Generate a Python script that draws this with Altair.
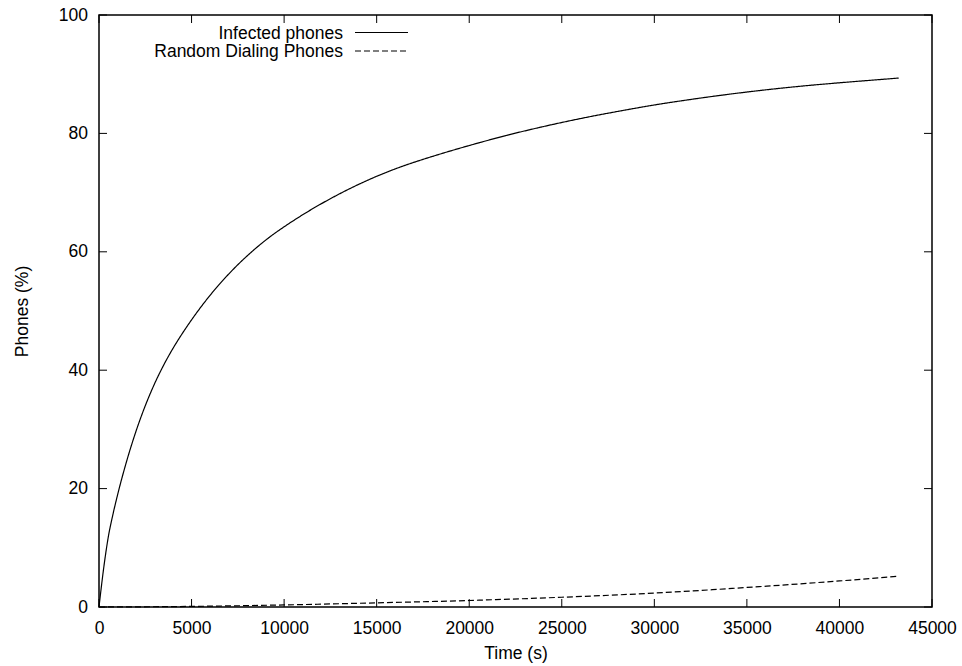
import altair as alt
import pandas as pd

# Infected phones (% of population) over time
infected_t = [0, 250, 500, 750, 1000, 1500, 2000, 2500, 3000, 3500, 4000, 4500, 5000,
              5500, 6000, 6500, 7000, 7500, 8000, 8500, 9000, 9500, 10000,
              11000, 12000, 13000, 14000, 15000,
              16000, 17000, 18000, 19000, 20000, 22000, 24000, 26000, 28000,
              30000, 32000, 34000, 36000, 38000, 40000, 42000, 43200]
infected_v = [0, 6.5, 11.8, 15.6, 18.9, 24.7, 29.7, 34.0, 37.7, 40.9, 43.7, 46.2, 48.5,
              50.65, 52.65, 54.5, 56.22, 57.82, 59.3, 60.68, 61.96, 63.14, 64.22,
              66.25, 68.1, 69.8, 71.35, 72.75,
              74.0, 75.1, 76.1, 77.05, 77.95, 79.65, 81.15, 82.5, 83.7,
              84.8, 85.75, 86.6, 87.35, 88.0, 88.55, 89.05, 89.35]

# Phones doing random dialing
dialing_t = [0, 5000, 10000, 15000, 20000, 25000, 30000, 35000, 40000, 43200]
dialing_v = [0, 0.1, 0.35, 0.7, 1.1, 1.65, 2.35, 3.3, 4.4, 5.2]

series_names = ["Infected phones", "Random Dialing Phones"]
x_ticks = [0, 5000, 10000, 15000, 20000, 25000, 30000, 35000, 40000, 45000]
y_ticks = [0, 20, 40, 60, 80, 100]

W, H = 833, 592
FONT = "Liberation Sans"
FS = 17.5
TICK = 8

df = pd.concat([
    pd.DataFrame({"t": infected_t, "v": infected_v, "series": series_names[0]}),
    pd.DataFrame({"t": dialing_t, "v": dialing_v, "series": series_names[1]}),
])

xscale = alt.Scale(domain=[0, 45000], nice=False, zero=False)
yscale = alt.Scale(domain=[0, 100], nice=False, zero=False)
xaxis = alt.Axis(values=x_ticks, format="d", title="Time (s)",
                 labelPadding=12.5, titleBaseline="alphabetic", titleY=51.5)
yaxis = alt.Axis(values=y_ticks, format="d", title="Phones (%)",
                 labelPadding=11.5, titleBaseline="alphabetic", titleX=-72)
X = alt.X("t:Q", scale=xscale, axis=xaxis)
Y = alt.Y("v:Q", scale=yscale, axis=yaxis)

lines = alt.Chart(df).mark_line(interpolate="monotone", strokeWidth=1.2, color="black").encode(
    x=X, y=Y,
    strokeDash=alt.StrokeDash("series:N", legend=None,
                              scale=alt.Scale(domain=series_names, range=[[1, 0], [6, 3]])),
    detail="series:N",
)

xt = pd.DataFrame({"t": x_ticks})
yt = pd.DataFrame({"v": y_ticks})

# inward ticks on all four sides of the frame
ticks_bottom = alt.Chart(xt).mark_rule(color="black", strokeWidth=1).encode(
    x=X, y=alt.value(H - TICK), y2=alt.value(H))
ticks_top = alt.Chart(xt).mark_rule(color="black", strokeWidth=1).encode(
    x=X, y=alt.value(0), y2=alt.value(TICK))
ticks_left = alt.Chart(yt).mark_rule(color="black", strokeWidth=1).encode(
    y=Y, x=alt.value(0), x2=alt.value(TICK))
ticks_right = alt.Chart(yt).mark_rule(color="black", strokeWidth=1).encode(
    y=Y, x=alt.value(W - TICK), x2=alt.value(W))

# key box in the upper left: label on the left, line sample on the right
key_layers = []
for i, name in enumerate(series_names):
    row_y = 18 + i * 18.5
    key_layers.append(
        alt.Chart(pd.DataFrame({"label": [name]})).mark_text(
            align="right", baseline="middle", font=FONT, fontSize=FS, color="black"
        ).encode(text="label:N", x=alt.value(244), y=alt.value(row_y + 0.5))
    )
    key_layers.append(
        alt.Chart(pd.DataFrame({"label": [name]})).mark_rule(
            color="black", strokeWidth=1.2, strokeDash=[1, 0] if i == 0 else [6, 3]
        ).encode(x=alt.value(256), x2=alt.value(309), y=alt.value(row_y - 0.5))
    )

chart = alt.layer(lines, ticks_bottom, ticks_top, ticks_left, ticks_right, *key_layers).properties(
    width=W, height=H,
    autosize=alt.AutoSizeParams(type="none"),
    padding={"left": 99, "top": 15, "right": 30, "bottom": 59},
    background="white",
).configure_view(
    stroke="black", strokeWidth=1.5
).configure_axis(
    labelFont=FONT, labelFontSize=FS, labelColor="black",
    titleFont=FONT, titleFontSize=FS, titleFontWeight="normal", titleColor="black",
    grid=False, ticks=False, tickSize=0, domain=False,
    labelFlush=False, labelOverlap=False,
)

chart.save("out.html", embed_options={"renderer": "svg", "actions": False})
